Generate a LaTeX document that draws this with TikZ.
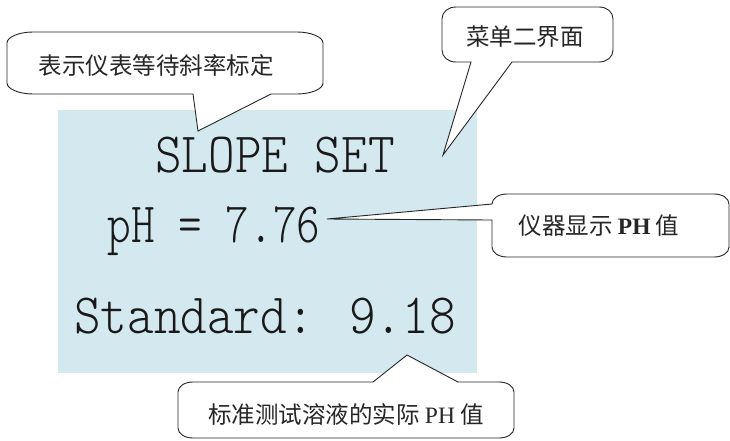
\documentclass[tikz,border=0pt]{standalone}
\usepackage{fontspec}
\usepackage{graphicx}
\newfontfamily\cjk{Noto Sans CJK SC}
\newfontfamily\tnr{Liberation Serif}
\newfontfamily\lcdfont{lmmonolt10-regular.otf}
\definecolor{lcdblue}{RGB}{211,233,239}
\tikzset{
  callout/.style={draw=black!85, fill=white, line width=0.9pt, line join=miter},
  cjktext/.style={inner sep=0pt, font=\cjk\fontsize{23.5}{26}\selectfont, text=black!85},
  lcdtext/.style={inner sep=0pt, anchor=base, text=black!90},
}
\newcommand{\lcd}[2][0.89]{\scalebox{#1}[1]{\fontsize{57}{60}\selectfont\lcdfont #2}}
\begin{document}
\begin{tikzpicture}[x=1pt,y=-1pt]
\useasboundingbox (0,0) rectangle (730,440);
% display panel
\fill[lcdblue] (58,110) rectangle (477,373);
\node[lcdtext] (slope) at (275,172) {\lcd{SLOPE SET}};
\node[lcdtext] (ph) at (214,242) {\lcd[0.79]{pH = 7.76}};
\node[lcdtext] (std) at (265,333) {\lcd{Standard: 9.18}};
% callout 1
\coordinate (tip1) at (198,131);
\draw[callout] (7,43) .. controls (7,37) and (19,32) .. (33,32) -- (297,32)
  .. controls (311,32) and (323,37) .. (323,43) -- (323,83)
  .. controls (323,89) and (311,94) .. (297,94) -- (271,94) -- (tip1) -- (193,94) -- (33,94)
  .. controls (19,94) and (7,89) .. (7,83) -- cycle;
\node[cjktext] (t1) at (156,66) {表示仪表等待斜率标定};
% callout 2
\coordinate (tip2) at (443,155);
\draw[callout] (442,19) .. controls (442,12) and (448,7) .. (456,7) -- (599,7)
  .. controls (607,7) and (613,12) .. (613,19) -- (613,50)
  .. controls (613,57) and (607,62) .. (599,62) -- (512,62) -- (tip2) -- (471,62) -- (456,62)
  .. controls (448,62) and (442,57) .. (442,50) -- cycle;
\node[cjktext] (t2) at (525,37) {菜单二界面};
% callout 3
\coordinate (tip3) at (327,219);
\draw[callout] (492,204) .. controls (492,198) and (499,194) .. (507,194) -- (714,194)
  .. controls (722,194) and (729,198) .. (729,204) -- (729,247)
  .. controls (729,253) and (722,257) .. (714,257) -- (507,257)
  .. controls (499,257) and (492,253) .. (492,247) -- (492,220) -- (tip3) -- cycle;
\node[cjktext] (t3) at (599,226) {仪器显示 {\tnr\bfseries PH} 值};
% callout 4
\coordinate (tip4) at (407,355);
\draw[callout] (178,392) .. controls (178,386) and (185,382) .. (193,382) -- (373,382) -- (tip4)
  -- (458,382) -- (499,382) .. controls (507,382) and (514,386) .. (514,392) -- (514,428)
  .. controls (514,434) and (507,438) .. (499,438) -- (193,438)
  .. controls (185,438) and (178,434) .. (178,428) -- cycle;
\node[cjktext] (t4) at (346,414) {标准测试溶液的实际 {\tnr PH} 值};
\end{tikzpicture}
\end{document}
